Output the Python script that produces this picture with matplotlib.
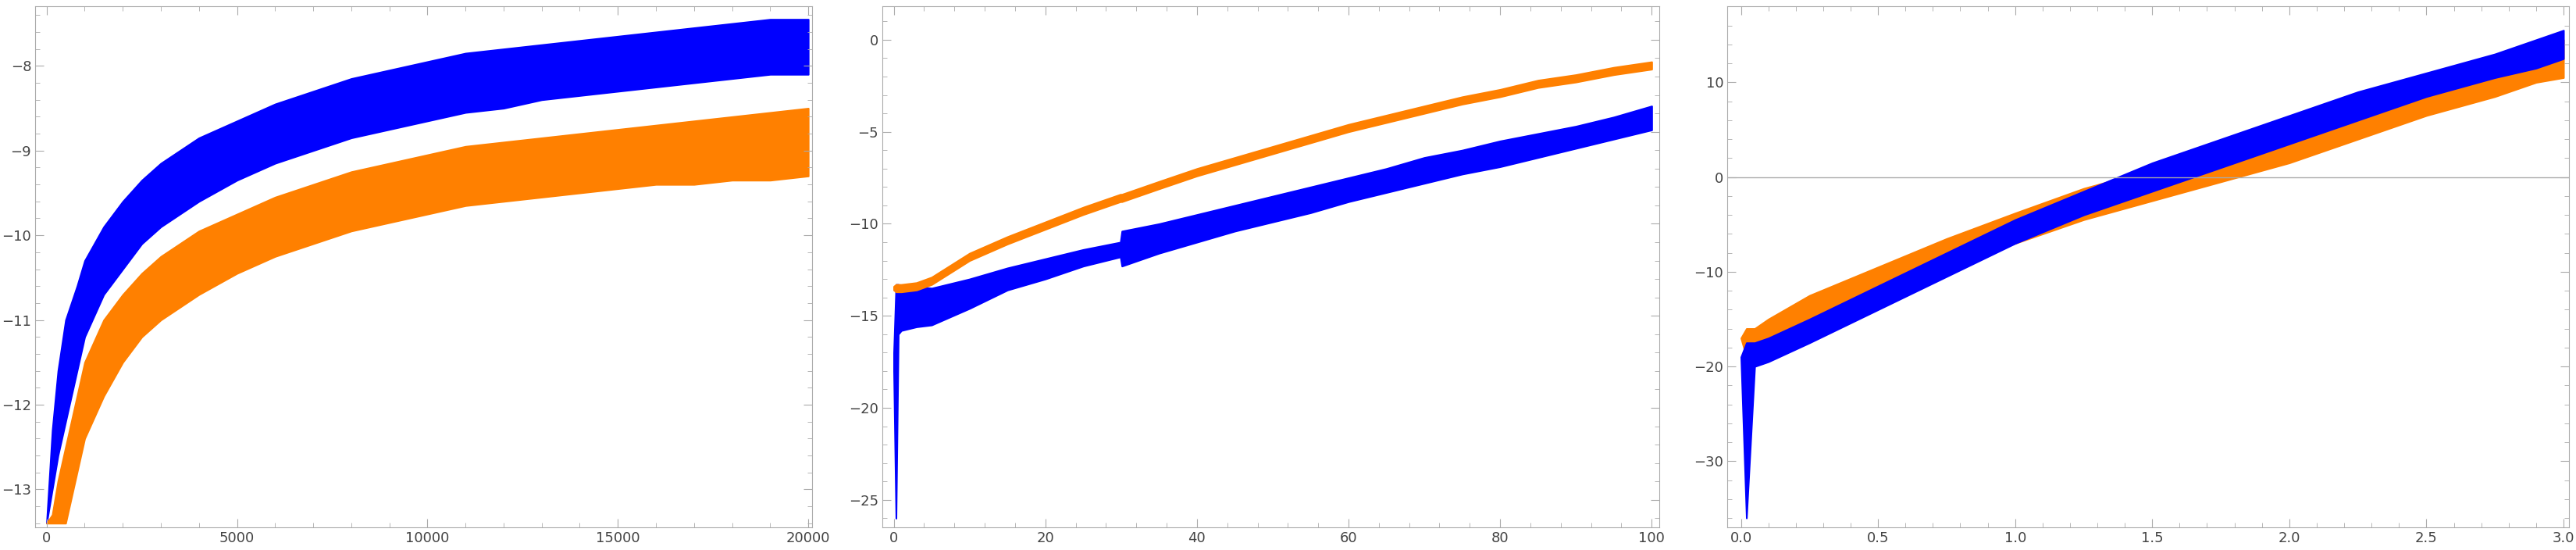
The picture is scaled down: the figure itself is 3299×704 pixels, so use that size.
import matplotlib
matplotlib.use("Agg")
import matplotlib.pyplot as plt
from matplotlib.ticker import AutoMinorLocator

BLUE = "#0000ff"
ORANGE = "#ff8000"

# Panel 1 envelopes
p1_x = [0, 150, 300, 500, 800, 1000, 1500, 2000, 2500, 3000, 4000, 5000, 6000, 7000, 8000,
        9000, 10000, 11000, 12000, 13000, 14000, 15000, 16000, 17000, 18000, 19000, 20000]
p1_blue_hi = [-13.4, -12.3, -11.6, -11.0, -10.6, -10.3, -9.9, -9.6, -9.35, -9.15, -8.85, -8.65,
              -8.45, -8.3, -8.15, -8.05, -7.95, -7.85, -7.8, -7.75, -7.7, -7.65, -7.6, -7.55, -7.5, -7.45, -7.45]
p1_blue_lo = [-13.4, -13.0, -12.6, -12.2, -11.6, -11.2, -10.7, -10.4, -10.1, -9.9, -9.6, -9.35,
              -9.15, -9.0, -8.85, -8.75, -8.65, -8.55, -8.5, -8.4, -8.35, -8.3, -8.25, -8.2, -8.15, -8.1, -8.1]
p1_orange_hi = [-13.4, -13.3, -12.9, -12.5, -11.9, -11.5, -11.0, -10.7, -10.45, -10.25, -9.95, -9.75,
                -9.55, -9.4, -9.25, -9.15, -9.05, -8.95, -8.9, -8.85, -8.8, -8.75, -8.7, -8.65, -8.6, -8.55, -8.5]
p1_orange_lo = [-13.4, -13.4, -13.4, -13.4, -12.8, -12.4, -11.9, -11.5, -11.2, -11.0, -10.7, -10.45,
                -10.25, -10.1, -9.95, -9.85, -9.75, -9.65, -9.6, -9.55, -9.5, -9.45, -9.4, -9.4, -9.35, -9.35, -9.3]

# Panel 2 envelopes
p2_x = [0, 0.3, 0.6, 1, 3, 5, 10, 15, 20, 25, 29.9, 30.1, 35, 40, 45, 50, 55, 60, 65, 70,
        75, 80, 85, 90, 95, 100]
p2_blue_hi = [-17.0, -13.3, -13.3, -13.4, -13.4, -13.5, -13.0, -12.4, -11.9, -11.4, -11.0, -10.4, -10.0,
              -9.5, -9.0, -8.5, -8.0, -7.5, -7.0, -6.4, -6.0, -5.5, -5.1, -4.7, -4.2, -3.6]
p2_blue_lo = [-18.0, -26.0, -16.0, -15.8, -15.6, -15.5, -14.6, -13.6, -13.0, -12.3, -11.8, -12.3, -11.6,
              -11.0, -10.4, -9.9, -9.4, -8.8, -8.3, -7.8, -7.3, -6.9, -6.4, -5.9, -5.4, -4.9]
p2_orange_hi = [-13.4, -13.3, -13.3, -13.3, -13.2, -12.9, -11.6, -10.7, -9.9, -9.1, -8.4, -8.4, -7.7,
                -7.0, -6.4, -5.8, -5.2, -4.6, -4.1, -3.6, -3.1, -2.7, -2.2, -1.9, -1.5, -1.2]
p2_orange_lo = [-13.6, -13.7, -13.7, -13.7, -13.6, -13.3, -12.0, -11.1, -10.3, -9.5, -8.8, -8.8, -8.1,
                -7.4, -6.8, -6.2, -5.6, -5.0, -4.5, -4.0, -3.5, -3.1, -2.6, -2.3, -1.9, -1.6]

# Panel 3 envelopes
p3_x = [0, 0.02, 0.05, 0.1, 0.25, 0.5, 0.75, 1.0, 1.25, 1.5, 1.75, 2.0, 2.25, 2.5, 2.75, 2.9, 3.0]
p3_blue_hi = [-19, -17.5, -17.5, -17.0, -15.0, -11.5, -8.0, -4.5, -1.5, 1.5, 4.0, 6.5, 9.0, 11.0, 13.0, 14.5, 15.5]
p3_blue_lo = [-19, -36.0, -20.0, -19.5, -17.5, -14.0, -10.5, -7.0, -4.0, -1.5, 1.0, 3.5, 6.0, 8.5, 10.5, 11.5, 12.5]
p3_orange_hi = [-17, -16.0, -16.0, -15.0, -12.5, -9.5, -6.5, -3.8, -1.2, 0.8, 3.0, 5.5, 7.8, 10.2, 12.2, 13.5, 14.5]
p3_orange_lo = [-17, -19.0, -19.0, -18.5, -16.0, -12.5, -9.5, -7.0, -4.5, -2.5, -0.5, 1.5, 4.0, 6.5, 8.5, 10.0, 10.5]

fig = plt.figure(figsize=(32.99, 7.04), dpi=100)
bottom, height = 0.041, 0.947
axes = [fig.add_axes([45/3299, bottom, 995/3299, height]),
        fig.add_axes([1130/3299, bottom, 995/3299, height]),
        fig.add_axes([2212/3299, bottom, 1078/3299, height])]

def style(ax):
    for s in ax.spines.values():
        s.set_color("#aaaaaa")
    ax.tick_params(which="both", direction="in", colors="#aaaaaa", labelcolor="#444444",
                   labelsize=13, top=True, right=True)
    ax.tick_params(which="major", length=8)
    ax.tick_params(which="minor", length=4)
    ax.xaxis.set_minor_locator(AutoMinorLocator(5))
    ax.yaxis.set_minor_locator(AutoMinorLocator(5))

ax = axes[0]
ax.fill_between(p1_x, p1_blue_lo, p1_blue_hi, color=BLUE, lw=1.5)
ax.fill_between(p1_x, p1_orange_lo, p1_orange_hi, color=ORANGE, lw=1.5)
ax.set_xlim(-300, 20100); ax.set_ylim(-13.45, -7.3)
ax.set_xticks([0, 5000, 10000, 15000, 20000])
ax.set_yticks([-13, -12, -11, -10, -9, -8])
style(ax)

ax = axes[1]
ax.fill_between(p2_x, p2_blue_lo, p2_blue_hi, color=BLUE, lw=1.5)
ax.fill_between(p2_x, p2_orange_lo, p2_orange_hi, color=ORANGE, lw=1.5)
ax.set_xlim(-1.5, 101); ax.set_ylim(-26.5, 1.8)
ax.set_xticks([0, 20, 40, 60, 80, 100])
ax.set_yticks([-25, -20, -15, -10, -5, 0])
style(ax)

ax = axes[2]
ax.axhline(0, color="#aaaaaa", lw=1)
ax.fill_between(p3_x, p3_orange_lo, p3_orange_hi, color=ORANGE, lw=1.5)
ax.fill_between(p3_x, p3_blue_lo, p3_blue_hi, color=BLUE, lw=1.5)
ax.set_xlim(-0.05, 3.02); ax.set_ylim(-37, 18)
ax.set_xticks([0, 0.5, 1.0, 1.5, 2.0, 2.5, 3.0])
ax.set_xticklabels(["0.0", "0.5", "1.0", "1.5", "2.0", "2.5", "3.0"])
ax.set_yticks([-30, -20, -10, 0, 10])
style(ax)

fig.savefig("out.png", dpi=100)
